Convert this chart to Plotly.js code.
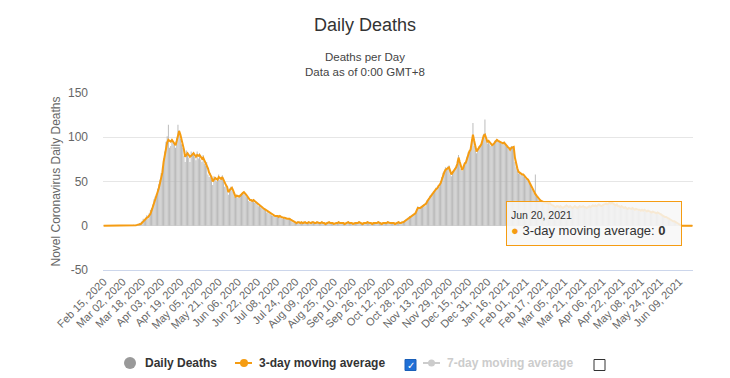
<!DOCTYPE html>
<html>
<head>
<meta charset="utf-8">
<script src="https://cdn.plot.ly/plotly-3.0.1.min.js"></script>
<style>html,body{margin:0;padding:0;background:#fff;}#chart{width:730px;height:378px;}</style>
</head>
<body>
<div id="chart"></div>
<script>
// ---- data ----
const startDate = '2020-02-15';
const dailyDeaths = [
 0,0,0,0,0,0,0,0,0,0,
 0,0,0,0,0,0,0,0,0,0,
 0,0,0,0,0,1,0,1,2,1,
 3,2,5,8,6,9,12,8,14,18,
 20,24,30,33,36,42,47,52,60,66,
 76,84,95,101,114,88,90,98,94,92,
 88,99,114,108,98,92,88,79,72,85,
 80,77,72,84,82,80,78,74,84,76,
 82,75,72,80,70,68,72,58,55,60,
 52,46,56,55,50,51,58,52,54,57,
 50,44,45,42,35,42,44,40,38,33,
 32,35,32,34,36,37,38,36,35,33,
 32,28,27,30,27,29,26,27,25,22,
 23,21,20,19,18,17,15,16,14,13,
 12,11,12,10,11,10,9,11,9,8,
 9,8,8,7,8,8,6,5,4,3,
 3,2,5,4,3,4,2,5,4,3,
 3,4,2,3,5,4,2,3,4,3,
 3,2,5,3,2,2,4,3,4,3,
 2,4,2,3,3,4,5,2,3,3,
 3,2,3,4,5,3,2,3,2,4,
 3,2,4,5,3,2,2,3,4,3,
 5,3,2,3,2,4,3,3,2,5,
 3,4,2,3,2,3,4,5,3,2,
 3,3,4,2,3,3,5,3,2,4,
 5,6,7,8,9,11,10,11,12,13,
 15,19,22,19,21,22,23,24,22,27,
 29,31,34,35,37,39,38,43,41,46,
 44,50,55,60,62,66,63,67,68,58,
 56,62,63,65,68,74,80,70,64,62,
 68,72,70,78,83,85,88,98,116,90,
 85,82,87,90,91,93,100,104,120,97,
 93,97,92,90,92,93,96,97,98,95,
 96,94,93,92,95,91,89,88,87,85,
 90,88,89,72,66,62,59,61,57,58,
 56,55,53,52,50,48,45,42,40,37,
 58,33,31,29,28,27,26,28,25,26,
 27,24,26,23,22,24,21,20,23,22,
 22,23,20,19,22,23,24,21,20,23,
 20,19,22,23,20,19,22,23,20,23,
 23,20,21,19,22,23,20,23,24,21,
 24,21,24,25,22,21,24,25,23,26,
 23,26,27,24,27,24,23,22,25,21,
 23,20,23,20,19,22,19,18,21,18,
 20,21,18,17,20,17,18,19,16,19,
 16,19,16,15,18,15,16,14,17,14,
 16,13,15,13,12,14,11,10,9,11,
 8,7,9,6,5,5,4,3,2,1,
 1,0,0,0,0,0,0,0,0,0,0,0
];
const movingAvg3 = [
 0,0,0,0,0,0,0,0,0,0,
 0,0,0,0,0,0,0,0,0,0,
 0,0,0,0,0,0.3,0.3,0.7,1,1.3,
 2,2,3.3,5,6.3,7.7,9,9.7,11.3,13.3,
 17,21,25,29,33,37,42,48,53,60,
 72,80,88,94,97,96,95,97,95,94,
 91,96,104,107,103,98,94,86,78,80,
 82,80,78,79,80,82,80,78,80,79,
 80,78,76,77,74,71,70,65,60,58,
 55,50,52,54,53,52,55,54,53,55,
 52,47,46,44,38,40,41,43,40,36,
 33,34,33,33,34,36,37,38,37,35,
 33,31,29,29,28,29,28,27,26,24,
 23,22,21,20,19,18,17,16,15,14,
 13,12,12,11,11,11,10,11,10,9,
 9,9,8,8,8,8,7,6,5,4,
 3,3,4,4,3,4,3,4,4,3,
 3,4,3,3,4,4,3,3,4,3,
 3,3,4,3,3,2,3,3,4,3,
 3,3,2,3,3,3,4,3,3,3,
 3,2,3,3,4,3,3,3,2,3,
 3,3,3,4,3,3,2,3,3,3,
 4,3,3,3,2,3,3,3,3,4,
 3,3,2,3,3,3,3,4,3,3,
 3,3,3,2,3,3,4,3,3,4,
 4,5,6,7,8,9,10,10,11,12,
 14,17,20,20,20,21,22,23,23,25,
 28,30,32,34,36,38,39,41,42,44,
 45,48,52,57,60,63,64,65,66,62,
 58,60,62,63,66,70,77,72,66,63,
 66,70,71,76,80,84,86,95,103,96,
 88,84,86,89,90,92,98,102,103,99,
 95,96,94,92,91,92,94,96,97,96,
 95,95,94,93,94,92,90,89,88,86,
 88,89,89,77,70,65,61,60,58,58,
 58,56,54,53,52,49,46,43,41,38,
 36,34,32,30,29,28,27,27,26,26,
 26,25,26,24,23,23,22,21,22,22,
 21,22,21,20,21,22,23,22,21,22,
 21,20,21,22,21,20,21,22,21,22,
 22,21,21,20,21,22,21,22,23,22,
 23,22,23,24,23,22,23,24,24,25,
 24,25,26,25,26,25,24,23,24,22,
 22,21,22,21,20,21,20,19,20,19,
 19,20,19,18,19,18,18,18,17,18,
 17,18,17,16,17,16,16,15,16,15,
 15,14,15,14,13,13,12,11,10,10,
 9,8,8,7,6,5,5,4,3,2,
 1,1,0,0,0,0,0,0,0,0,0,0
];
const tickEvery = 16;
const titleText = 'Daily Deaths';
const subtitleLines = ['Deaths per Day', 'Data as of 0:00 GMT+8'];
const yAxisTitle = 'Novel Coronavirus Daily Deaths';
const legendNames = ['Daily Deaths', '3-day moving average', '7-day moving average'];
const tooltipDate = 'Jun 20, 2021';

// ---- categories (consecutive days) ----
function addDays(s, n){const d=new Date(s+'T00:00:00Z');d.setUTCDate(d.getUTCDate()+n);return d.toISOString().slice(0,10);}
const dates = dailyDeaths.map((_,i)=>addDays(startDate,i));
const tickvals = dates.filter((_,i)=>i%tickEvery===0);

const ORANGE = '#f59c12';
const FONT = 'Liberation Sans, Arial, sans-serif';

// pixel helpers for overlay items
const L=103, R=37, T=93, B=108, W=730, H=378;
const pw=W-L-R, ph=H-T-B;
const px = x => (x-L)/pw;
const py = y => (H-B-y)/ph;

const traces = [
 {type:'bar', x:dates, y:dailyDeaths, name:legendNames[0], marker:{color:'#b5b5b5', line:{width:0}}, hoverinfo:'skip'},
 {type:'scatter', mode:'lines', x:dates, y:movingAvg3, name:legendNames[1], line:{color:ORANGE, width:2}, hoverinfo:'skip'}
];

const lastIdx = dates.length-1;
const legY = 363;
const annotations = [
 {xref:'paper', yref:'paper', x:px(365), y:py(57), text:subtitleLines[0], showarrow:false, font:{family:FONT,size:11.5,color:'#444'}, xanchor:'center', yanchor:'middle'},
 {xref:'paper', yref:'paper', x:px(365), y:py(71.5), text:subtitleLines[1], showarrow:false, font:{family:FONT,size:11.5,color:'#444'}, xanchor:'center', yanchor:'middle'},
 // tooltip
 {xref:'x', yref:'y', x:dates[lastIdx], y:movingAvg3[lastIdx], showarrow:true, arrowhead:0, arrowwidth:1, arrowcolor:ORANGE,
  ax:-98, ay:-2, axref:'pixel', ayref:'pixel',
  text:'<span style="font-size:10.5px">'+tooltipDate+'</span><br><span style="color:'+ORANGE+'">●</span> '+legendNames[1]+': <b>'+movingAvg3[lastIdx]+'</b>',
  align:'left', width:166, height:35, borderpad:4, bgcolor:'rgba(247,247,247,0.85)', bordercolor:ORANGE, borderwidth:1,
  font:{family:FONT,size:13,color:'#333'}},
 // legend texts
 {xref:'paper', yref:'paper', x:px(143), y:py(legY), text:'<b>'+legendNames[0]+'</b>', showarrow:false, xanchor:'left', yanchor:'middle', font:{family:FONT,size:12,color:'#333'}},
 {xref:'paper', yref:'paper', x:px(257), y:py(legY), text:'<b>'+legendNames[1]+'</b>', showarrow:false, xanchor:'left', yanchor:'middle', font:{family:FONT,size:12,color:'#333'}},
 {xref:'paper', yref:'paper', x:px(445), y:py(legY), text:'<b>'+legendNames[2]+'</b>', showarrow:false, xanchor:'left', yanchor:'middle', font:{family:FONT,size:12,color:'#cccccc'}},
 {xref:'paper', yref:'paper', x:px(410.5), y:py(365), text:'<b>✓</b>', showarrow:false, xanchor:'center', yanchor:'middle', font:{family:'DejaVu Sans',size:10,color:'#fff'}}
];

const shapes = [
 {type:'circle', xref:'paper', yref:'paper', x0:px(124), x1:px(136), y0:py(357), y1:py(369), fillcolor:'#999', line:{width:0}},
 {type:'line', xref:'paper', yref:'paper', x0:px(235), x1:px(252), y0:py(legY), y1:py(legY), line:{color:ORANGE,width:2}},
 {type:'circle', xref:'paper', yref:'paper', x0:px(240), x1:px(248), y0:py(legY-4), y1:py(legY+4), fillcolor:ORANGE, line:{width:0}},
 {type:'rect', xref:'paper', yref:'paper', x0:px(405), x1:px(416), y0:py(359.5), y1:py(370.5), fillcolor:'#1f6fd6', line:{color:'#1a5fb8',width:1}},
 {type:'line', xref:'paper', yref:'paper', x0:px(423), x1:px(440), y0:py(legY), y1:py(legY), line:{color:'#cccccc',width:2}},
 {type:'circle', xref:'paper', yref:'paper', x0:px(428), x1:px(435), y0:py(legY-3.5), y1:py(legY+3.5), fillcolor:'#cccccc', line:{width:0}},
 {type:'rect', xref:'paper', yref:'paper', x0:px(594), x1:px(605), y0:py(359.5), y1:py(370.5), fillcolor:'#fff', line:{color:'#333',width:1}}
];

const layout = {
 width:W, height:H,
 margin:{l:L, r:R, t:T, b:B, pad:0},
 paper_bgcolor:'#fff', plot_bgcolor:'#fff',
 font:{family:FONT, color:'#666'},
 title:{text:titleText, x:0.5, xref:'container', xanchor:'center', y:1-25/H, yref:'container', yanchor:'middle', font:{family:FONT,size:18,color:'#333'}},
 showlegend:false,
 bargap:0.25,
 xaxis:{type:'date', range:[addDays(startDate,-1)+' 12:00', dates[lastIdx]+' 12:00'], tickvals:tickvals, tickformat:'%b %d, %Y', tickangle:-45,
   tickfont:{family:FONT,size:11,color:'#666'}, showgrid:false, showline:true, linecolor:'#ccd6eb', linewidth:1, ticks:'', zeroline:false, fixedrange:true},
 yaxis:{range:[-50,150], tickvals:[-50,0,50,100,150], ticktext:['-50','0','50','100','150'], tickfont:{family:FONT,size:12,color:'#666'},
   gridcolor:'#e6e6e6', gridwidth:1, zeroline:false, showline:false, ticks:'', ticklabelstandoff:14,
   title:{text:yAxisTitle, font:{family:FONT,size:12,color:'#666'}, standoff:4}},
 annotations:annotations,
 shapes:shapes
};

Plotly.newPlot('chart', traces, layout, {displayModeBar:false, staticPlot:true});
</script>
</body>
</html>
